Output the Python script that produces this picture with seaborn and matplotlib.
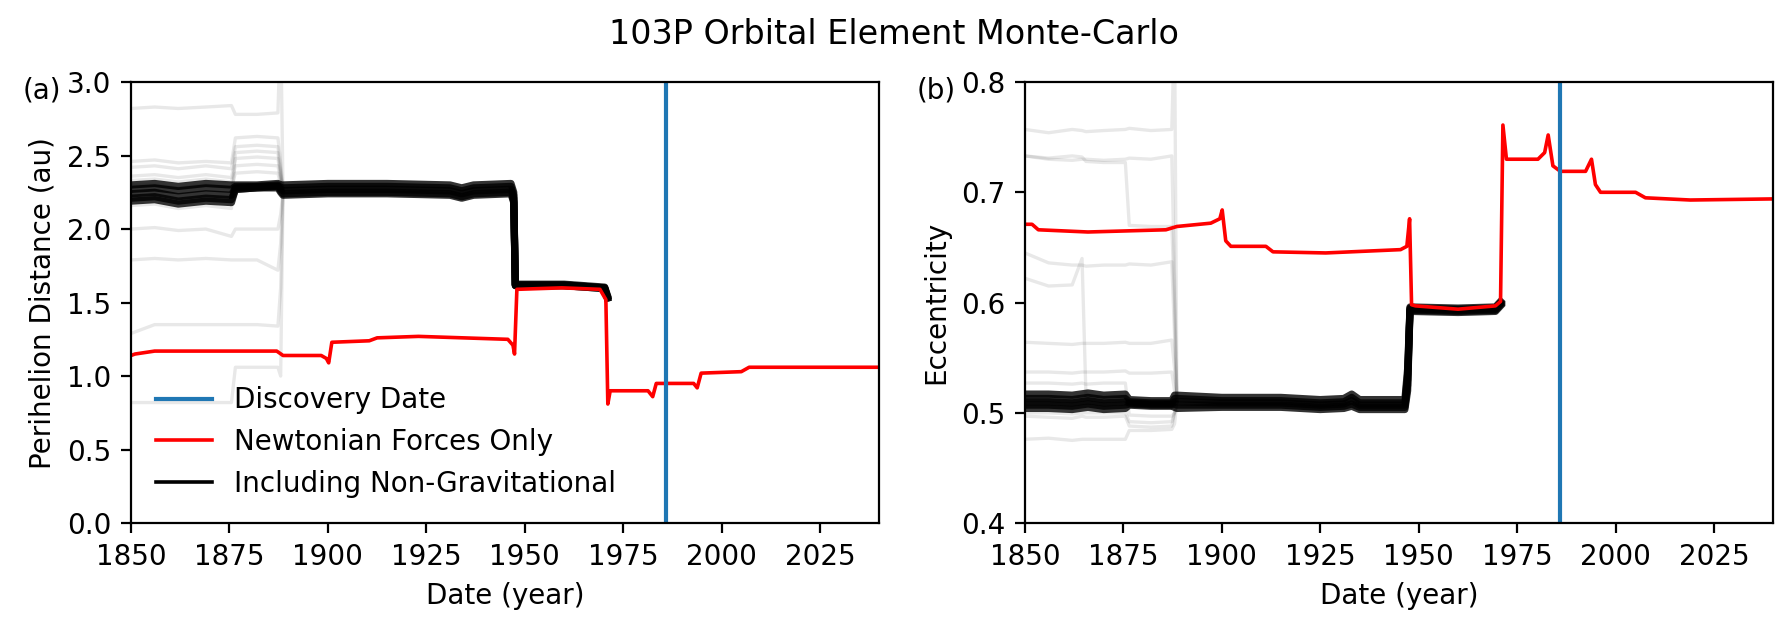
import numpy as np
import pandas as pd
import matplotlib
matplotlib.use("Agg")
import matplotlib.pyplot as plt
import seaborn as sns
from matplotlib.lines import Line2D

discovery_year = 1986

# ---- panel (a): perihelion distance (au) ----
# Newtonian-only solution
years_red_q = [1850, 1851, 1856, 1887, 1888.6, 1898.3, 1899.6, 1900.2, 1901.0, 1910.5,
               1912.5, 1923, 1945.7, 1947.0, 1947.4, 1948.0, 1959.4, 1969.1, 1970.6, 1971.1,
               1971.7, 1981.3, 1982.5, 1983.4, 1992.9, 1993.8, 1994.8, 2005, 2007, 2040]
q_red = [1.14, 1.15, 1.17, 1.17, 1.14, 1.14, 1.12, 1.09, 1.23, 1.24,
         1.26, 1.27, 1.25, 1.21, 1.15, 1.59, 1.60, 1.59, 1.52, 0.81,
         0.90, 0.90, 0.86, 0.95, 0.95, 0.92, 1.02, 1.03, 1.06, 1.06]

# Monte-Carlo clones, dense core
years_band_q = [1850, 1856, 1862, 1869, 1875.5, 1876.5, 1882, 1887.3, 1888.0, 1888.6,
                1900, 1915, 1931, 1934, 1937, 1946.5, 1947.2, 1947.6, 1960, 1970.3, 1971.0]
q_band = [
    [2.30, 2.31, 2.29, 2.31, 2.30, 2.30, 2.30, 2.31, 2.30, 2.30, 2.31, 2.31, 2.30, 2.28, 2.30, 2.31, 2.25, 1.625, 1.625, 1.605, 1.55],
    [2.27, 2.28, 2.26, 2.28, 2.27, 2.29, 2.29, 2.30, 2.28, 2.28, 2.29, 2.29, 2.28, 2.26, 2.28, 2.29, 2.23, 1.62, 1.62, 1.60, 1.54],
    [2.24, 2.25, 2.22, 2.24, 2.23, 2.28, 2.29, 2.29, 2.27, 2.26, 2.27, 2.27, 2.26, 2.24, 2.26, 2.27, 2.21, 1.62, 1.62, 1.60, 1.54],
    [2.21, 2.22, 2.19, 2.21, 2.20, 2.27, 2.28, 2.29, 2.26, 2.24, 2.25, 2.25, 2.24, 2.22, 2.24, 2.25, 2.19, 1.615, 1.615, 1.595, 1.53],
    [2.19, 2.20, 2.17, 2.19, 2.18, 2.27, 2.28, 2.28, 2.25, 2.23, 2.24, 2.24, 2.23, 2.21, 2.23, 2.24, 2.18, 1.615, 1.615, 1.595, 1.53],
]

# Monte-Carlo clones, outliers before the 1888 convergence
years_spread_q = [1850, 1856, 1862, 1869, 1875.5, 1876.5, 1882, 1887.3, 1888.0, 1888.6]
q_spread = [
    [2.82, 2.83, 2.82, 2.83, 2.84, 2.78, 2.78, 2.79, 3.40, 2.26],
    [2.46, 2.47, 2.45, 2.46, 2.45, 2.62, 2.63, 2.62, 2.45, 2.27],
    [2.42, 2.43, 2.41, 2.43, 2.41, 2.56, 2.57, 2.56, 2.40, 2.26],
    [2.36, 2.37, 2.35, 2.37, 2.35, 2.48, 2.49, 2.48, 2.36, 2.26],
    [2.33, 2.34, 2.32, 2.34, 2.32, 2.43, 2.44, 2.43, 2.33, 2.25],
    [2.00, 2.01, 1.99, 2.00, 1.95, 2.00, 2.00, 2.00, 2.10, 2.25],
    [1.79, 1.80, 1.79, 1.80, 1.79, 1.79, 1.79, 1.72, 1.90, 2.25],
    [1.29, 1.35, 1.35, 1.35, 1.35, 1.35, 1.35, 1.34, 1.60, 2.25],
    [0.82, 0.82, 0.82, 0.82, 0.82, 1.06, 1.06, 1.06, 1.00, 2.25],
    [2.30, 2.30, 2.28, 2.30, 2.28, 2.38, 2.39, 2.38, 2.30, 2.26],
    [2.16, 2.17, 2.14, 2.16, 2.14, 2.52, 2.53, 2.52, 2.38, 2.25],
]

# ---- panel (b): eccentricity ----
years_red_e = [1850, 1851.8, 1853.4, 1866, 1885.8, 1888.6, 1897.2, 1899.5, 1900.1, 1901.0,
               1902.3, 1911.2, 1913.0, 1926.4, 1945.4, 1947.0, 1947.7, 1948.2, 1949.2, 1960,
               1969.5, 1970.8, 1971.4, 1972.3, 1980.3, 1982.0, 1982.9, 1984.1, 1986, 1992.4,
               1993.9, 1994.9, 1996.2, 2005.1, 2007.6, 2019, 2040]
e_red = [0.671, 0.671, 0.666, 0.664, 0.666, 0.669, 0.672, 0.676, 0.684, 0.656,
         0.651, 0.651, 0.646, 0.645, 0.648, 0.651, 0.676, 0.598, 0.597, 0.594,
         0.597, 0.601, 0.761, 0.730, 0.730, 0.736, 0.752, 0.724, 0.719, 0.719,
         0.730, 0.707, 0.700, 0.700, 0.695, 0.693, 0.694]

years_band_e = [1850, 1856, 1862, 1866, 1870, 1875.5, 1876.5, 1882, 1887.3, 1888.0, 1888.6, 1900,
                1915, 1925, 1931, 1933, 1935, 1946.5, 1947.2, 1947.8, 1960, 1969.5, 1970.8]
e_band = [
    [0.517, 0.517, 0.516, 0.518, 0.516, 0.517, 0.512, 0.511, 0.511, 0.516, 0.516, 0.514, 0.514, 0.512, 0.513, 0.517, 0.512, 0.512, 0.540, 0.596, 0.595, 0.596, 0.601],
    [0.513, 0.513, 0.512, 0.514, 0.512, 0.513, 0.510, 0.509, 0.509, 0.513, 0.513, 0.511, 0.511, 0.509, 0.510, 0.514, 0.509, 0.509, 0.535, 0.595, 0.594, 0.595, 0.600],
    [0.510, 0.510, 0.509, 0.511, 0.509, 0.510, 0.509, 0.508, 0.508, 0.510, 0.510, 0.509, 0.509, 0.507, 0.508, 0.511, 0.507, 0.507, 0.530, 0.594, 0.593, 0.594, 0.599],
    [0.507, 0.507, 0.506, 0.508, 0.506, 0.507, 0.508, 0.507, 0.507, 0.508, 0.507, 0.507, 0.507, 0.505, 0.506, 0.508, 0.505, 0.505, 0.525, 0.593, 0.592, 0.593, 0.598],
    [0.504, 0.504, 0.503, 0.505, 0.503, 0.504, 0.507, 0.506, 0.506, 0.505, 0.504, 0.505, 0.505, 0.503, 0.504, 0.506, 0.503, 0.503, 0.520, 0.592, 0.591, 0.592, 0.597],
]

years_spread_e = [1850, 1856, 1862, 1864.5, 1865.5, 1870, 1875.5, 1876.5, 1882, 1887.3, 1888.0, 1888.6]
e_spread = [
    [0.757, 0.754, 0.757, 0.756, 0.755, 0.756, 0.757, 0.758, 0.756, 0.757, 0.850, 0.512],
    [0.733, 0.731, 0.733, 0.732, 0.728, 0.727, 0.727, 0.670, 0.669, 0.669, 0.600, 0.510],
    [0.733, 0.730, 0.729, 0.730, 0.730, 0.729, 0.730, 0.731, 0.730, 0.733, 0.620, 0.510],
    [0.645, 0.636, 0.634, 0.634, 0.633, 0.634, 0.634, 0.635, 0.634, 0.637, 0.570, 0.510],
    [0.622, 0.615, 0.616, 0.640, 0.515, 0.515, 0.515, 0.508, 0.508, 0.509, 0.509, 0.510],
    [0.564, 0.563, 0.562, 0.563, 0.563, 0.563, 0.564, 0.563, 0.563, 0.566, 0.540, 0.510],
    [0.537, 0.537, 0.536, 0.537, 0.537, 0.537, 0.538, 0.536, 0.536, 0.537, 0.520, 0.510],
    [0.527, 0.527, 0.526, 0.527, 0.526, 0.527, 0.527, 0.498, 0.497, 0.497, 0.500, 0.510],
    [0.476, 0.477, 0.475, 0.476, 0.476, 0.476, 0.476, 0.484, 0.484, 0.485, 0.490, 0.510],
    [0.500, 0.500, 0.499, 0.500, 0.500, 0.500, 0.500, 0.492, 0.491, 0.492, 0.500, 0.510],
    [0.497, 0.496, 0.495, 0.497, 0.496, 0.496, 0.497, 0.488, 0.487, 0.488, 0.500, 0.510],
]


def clones_frame(years, clones):
    # long format: one row per (clone, year)
    rows = []
    for i, vals in enumerate(clones):
        for t, v in zip(years, vals):
            rows.append({"clone": i, "year": t, "value": v})
    return pd.DataFrame(rows)


def draw_panel(ax, years_band, band, years_spread, spread, years_red, red, ylabel, ylim, tag):
    df_spread = clones_frame(years_spread, spread)
    df_band = clones_frame(years_band, band)

    sns.lineplot(data=df_spread, x="year", y="value", units="clone", estimator=None,
                 color="black", alpha=0.09, linewidth=1.2, legend=False, ax=ax)
    sns.lineplot(data=df_band, x="year", y="value", units="clone", estimator=None,
                 color="black", alpha=0.8, linewidth=2.6, legend=False, ax=ax)
    sns.lineplot(x=years_red, y=red, color="red", linewidth=1.3, ax=ax)
    ax.axvline(discovery_year, color="C0", linewidth=1.5)

    ax.set_xlim(1850, 2040)
    ax.set_ylim(*ylim)
    ax.set_xlabel("Date (year)", fontsize=10)
    ax.set_ylabel(ylabel, fontsize=10)
    ax.tick_params(labelsize=10)
    ax.text(-0.145, 0.98, tag, transform=ax.transAxes, ha="left", va="center", fontsize=10)


fig, axes = plt.subplots(1, 2, figsize=(8.94, 3.155), dpi=200)
fig.subplots_adjust(left=0.0733, right=0.9916, bottom=0.171, top=0.870, wspace=0.195)

draw_panel(axes[0], years_band_q, q_band, years_spread_q, q_spread, years_red_q, q_red,
           "Perihelion Distance (au)", (0, 3), "(a)")
draw_panel(axes[1], years_band_e, e_band, years_spread_e, e_spread, years_red_e, e_red,
           "Eccentricity", (0.4, 0.8), "(b)")

legend_elements = [
    Line2D([], [], color="C0", linewidth=1.5, label="Discovery Date"),
    Line2D([], [], color="red", linewidth=1.3, label="Newtonian Forces Only"),
    Line2D([], [], color="black", linewidth=1.3, label="Including Non-Gravitational"),
]
axes[0].legend(handles=legend_elements, loc="lower left", frameon=False, fontsize=10)

fig.text(0.5, 0.946, "103P Orbital Element Monte-Carlo", ha="center", va="center", fontsize=12)

fig.savefig("out.png", dpi=200)
